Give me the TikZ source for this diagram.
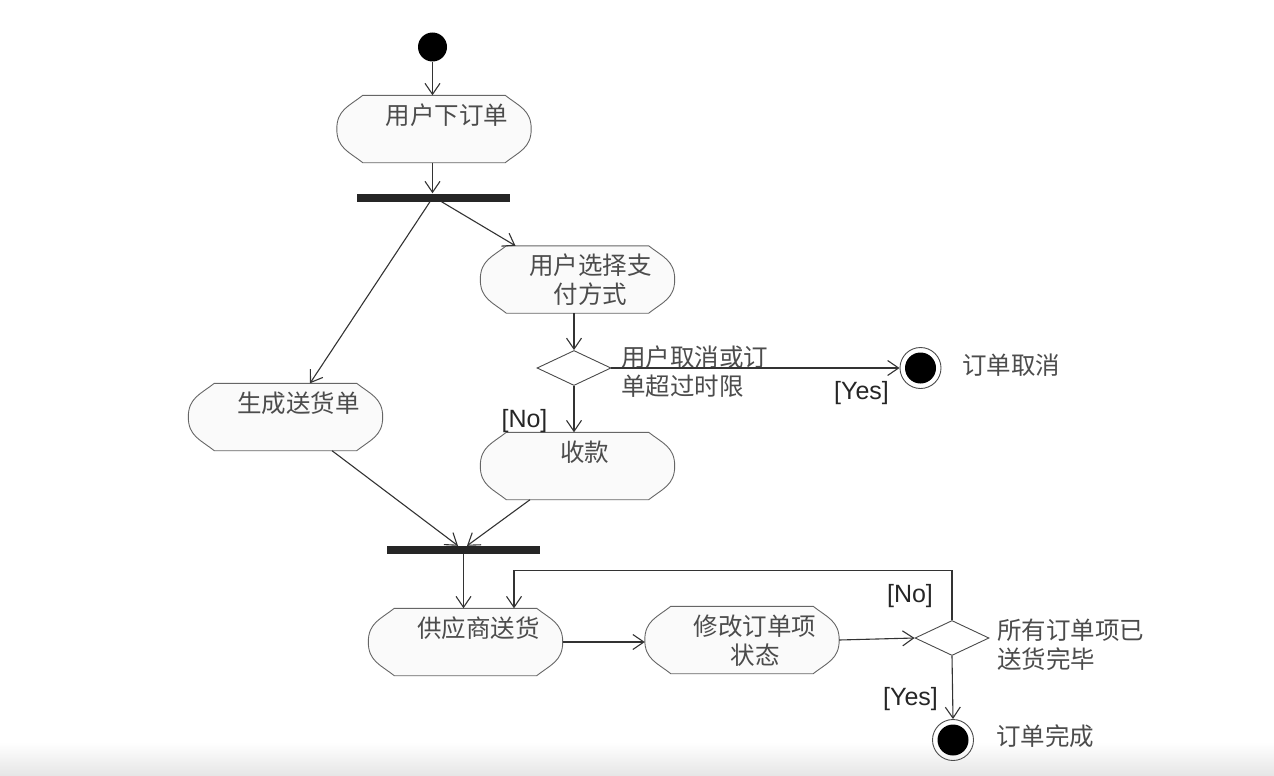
\documentclass[tikz,border=0pt]{standalone}
\usepackage{fontspec}
\setmainfont{Liberation Sans}
\newfontfamily\cjk{Noto Sans CJK SC}
\newcommand{\cjksize}{\cjk\fontsize{24.5}{29}\selectfont}
\usetikzlibrary{shapes.misc,shapes.geometric,arrows.meta,calc}
\begin{document}
\begin{tikzpicture}[x=1pt,y=-1pt,
  act/.style={rectangle, minimum width=194pt, minimum height=67pt, inner sep=0pt,
    append after command={\pgfextra{\filldraw[draw=black!60, line width=0.9pt, fill=black!2]
      ($(\tikzlastnode.north west)+(26,0)$) .. controls ($(\tikzlastnode.north west)+(12,11)$) and ($(\tikzlastnode.west)+(0,-19)$) .. (\tikzlastnode.west)
      .. controls ($(\tikzlastnode.west)+(0,19)$) and ($(\tikzlastnode.south west)+(12,-11)$) .. ($(\tikzlastnode.south west)+(26,0)$)
      -- ($(\tikzlastnode.south east)+(-26,0)$)
      .. controls ($(\tikzlastnode.south east)+(-12,-11)$) and ($(\tikzlastnode.east)+(0,19)$) .. (\tikzlastnode.east)
      .. controls ($(\tikzlastnode.east)+(0,-19)$) and ($(\tikzlastnode.north east)+(-12,11)$) .. ($(\tikzlastnode.north east)+(-26,0)$)
      -- cycle;}}},
  acttext/.style={anchor=north, inner sep=0pt, xshift=13pt, yshift=-8pt, align=center, font=\cjksize, text=black!70},
  initial/.style={circle, fill=black, minimum size=29pt, inner sep=0pt},
  bar/.style={rectangle, fill=black!85, minimum width=153pt, minimum height=8pt, inner sep=0pt},
  dec/.style={diamond, draw=black!70, line width=0.9pt, fill=white, minimum width=74pt, minimum height=35pt, inner sep=0pt},
  final/.style={circle, draw=black!70, line width=0.9pt, minimum size=41pt, inner sep=0pt, path picture={\fill[black] (path picture bounding box.center) circle (15.5pt);}},
  flow/.style={draw=black!80, line width=1.1pt, -{Straight Barb[length=11pt,width=15pt]}},
  note/.style={font=\cjksize, text=black!70, inner sep=0pt, align=left},
  guard/.style={font=\fontsize{25}{29}\selectfont, text=black!85, inner sep=0pt}
]
\useasboundingbox (0,0) rectangle (1274,776);
\fill[white] (0,0) rectangle (1274,776);
\shade[top color=white, bottom color=black!10] (0,742) rectangle (1274,776);

% nodes
\node[initial] (s) at (432.5,47) {};
\node[act, label={[acttext]north:用户下订单}] (a1) at (434,129) {};
\node[bar] (b1) at (433.5,197.5) {};
\node[act, label={[acttext]north:用户选择支\\付方式}] (a2) at (577.5,279.5) {};
\node[act, label={[acttext]north:生成送货单}] (a3) at (285.5,417) {};
\node[dec] (d1) at (574,368) {};
\node[final] (f1) at (920.5,368) {};
\node[act, label={[acttext,xshift=-6pt]north:收款}] (a4) at (577.5,466) {};
\node[bar] (b2) at (463.5,550) {};
\node[act, label={[acttext]north:供应商送货}] (a5) at (465.5,642) {};
\node[act, label={[acttext]north:修改订单项\\状态}] (a6) at (742,640) {};
\node[dec] (d2) at (952,638) {};
\node[final] (f2) at (953,740) {};

% texts
\node[note, anchor=west] (t1) at (621,372) {用户取消或订\\单超过时限};
\node[note, anchor=west] (t2) at (962,365) {订单取消};
\node[note, anchor=west] (t3) at (997,645) {所有订单项已\\送货完毕};
\node[note, anchor=west] (t4) at (996,736) {订单完成};
\node[guard] (g1) at (861.5,393.5) {[Yes]};
\node[guard] (g2) at (524.5,421) {[No]};
\node[guard] (g3) at (910,596) {[No]};
\node[guard] (g4) at (910.5,699) {[Yes]};

% connectors
\draw[flow] (s) -- (s |- a1.north);
\draw[flow] (a1.south -| s) -- (b1.north -| s);
\draw[flow] ($(b1.south)+(8,0)$) -- ($(a2.north)+(-62,0)$);
\draw[flow] ($(b1.south)+(-3.5,0)$) -- ($(a3.north)+(24.5,0)$);
\draw[flow] (a2.south -| d1.north) -- (d1.north);
\draw[flow] (d1.east) -- (d1.east -| f1.west);
\draw[flow] (d1.south) -- (d1.south |- a4.north);
\draw[flow] ($(a3.south)+(46.5,0)$) -- ($(b2.north)+(-5.5,0)$);
\draw[flow] ($(a4.south)+(-47.5,0)$) -- ($(b2.north)+(3.5,0)$);
\draw[flow] (b2.south) -- (b2.south |- a5.north);
\coordinate (l1) at ($(d2.north)+(0,-50)$);
\coordinate (l2) at ($(a5.north)+(48.5,0)$);
\draw[flow] (d2.north) -- (l1) -- (l1 -| l2) -- (l2);
\draw[flow] (a5.east) -- (a5.east -| a6.west);
\draw[flow] (a6.east) -- (d2.west);
\draw[flow] (d2.south) -- (f2.north);
\end{tikzpicture}
\end{document}
